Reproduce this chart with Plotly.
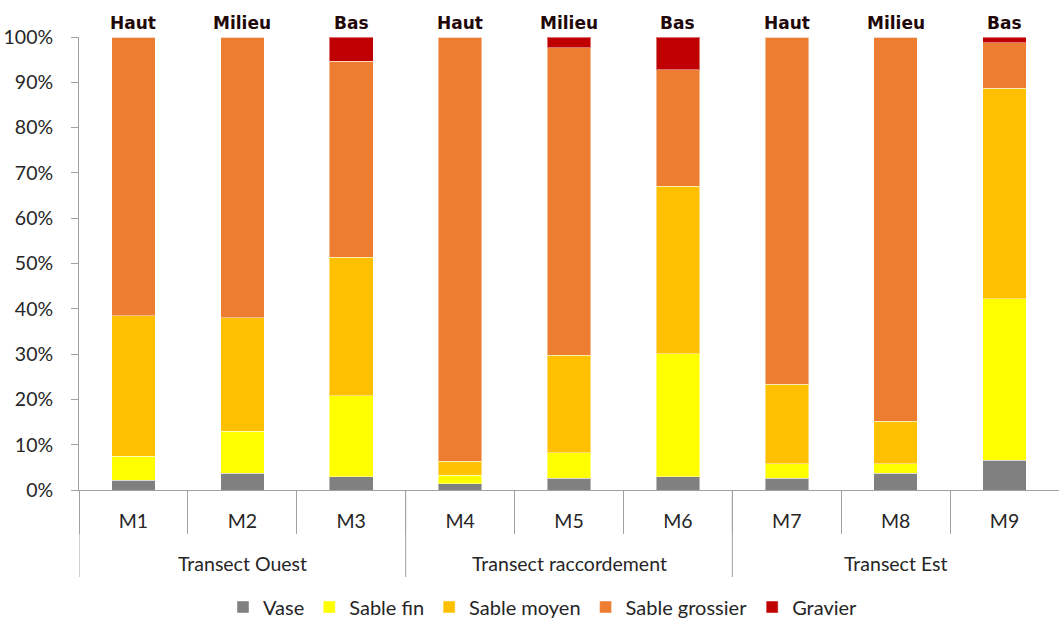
import plotly.graph_objects as go

samples = ["M1", "M2", "M3", "M4", "M5", "M6", "M7", "M8", "M9"]
positions = ["Haut", "Milieu", "Bas", "Haut", "Milieu", "Bas", "Haut", "Milieu", "Bas"]
transects = ["Transect Ouest", "Transect raccordement", "Transect Est"]
transect_centers = ["M2", "M5", "M8"]

vase = [2.2, 3.7, 2.9, 1.4, 2.6, 2.9, 2.6, 3.7, 6.6]
sable_fin = [5.2, 9.3, 17.9, 1.9, 5.6, 27.2, 3.2, 2.1, 35.6]
sable_moyen = [31.1, 25.0, 30.6, 3.0, 21.5, 37.0, 17.5, 9.4, 46.5]
sable_grossier = [61.5, 62.0, 43.3, 93.7, 67.9, 25.7, 76.7, 84.8, 10.0]
gravier = [0, 0, 5.3, 0, 2.4, 7.2, 0, 0, 1.3]

series = [
    ("Vase", vase, "#808080"),
    ("Sable fin", sable_fin, "#FFFF00"),
    ("Sable moyen", sable_moyen, "#FFC000"),
    ("Sable grossier", sable_grossier, "#ED7D31"),
    ("Gravier", gravier, "#C00000"),
]

FONT = "Lato"
FS = 19.5
TXT = "#262626"
AX = "#A0A0A0"

fig = go.Figure()
for name, vals, col in series:
    fig.add_trace(go.Bar(
        x=samples, y=vals, name=name, width=0.4,
        marker=dict(color=col, line=dict(color="rgba(255,255,255,0.45)", width=1)),
    ))

# Top position labels
for s, p in zip(samples, positions):
    fig.add_annotation(x=s, y=100, xref="x", yref="y", text=p, showarrow=False,
                       yanchor="bottom", yshift=2,
                       font=dict(family="DejaVu Sans", size=17, color="#220808", weight="bold"))

# Transect group labels
for t, c in zip(transects, transect_centers):
    fig.add_annotation(x=c, y=-73 / 453, xref="x", yref="paper", text=t, showarrow=False,
                       yanchor="middle", font=dict(family=FONT, size=FS, color=TXT))

# Group dividers
for b in [-0.5, 2.5, 5.5]:
    fig.add_shape(type="line", xref="x", yref="paper", x0=b, x1=b, y0=0, y1=-87 / 453,
                  line=dict(color=AX, width=1))

fig.update_layout(
    width=1059, height=619,
    margin=dict(l=79, r=0, t=37, b=129, autoexpand=False),
    barmode="stack",
    plot_bgcolor="white", paper_bgcolor="white",
    font=dict(family=FONT, size=FS, color=TXT),
    showlegend=True,
    legend=dict(orientation="h", x=(543 - 79) / 980, xanchor="center",
                y=-117 / 453, yanchor="middle", traceorder="normal",
                font=dict(family=FONT, size=20, color=TXT)),
)
fig.update_xaxes(
    range=[-0.5, 8.5], showline=True, linecolor=AX, linewidth=1, automargin=False,
    ticks="outside", tickson="boundaries", ticklen=43, tickcolor=AX,
    ticklabelstandoff=14, showgrid=False,
    tickfont=dict(family=FONT, size=FS, color=TXT),
)
fig.update_yaxes(
    range=[0, 100], dtick=10, ticksuffix="%", showline=True, linecolor=AX, linewidth=1,
    automargin=False,
    ticks="outside", ticklen=7, tickcolor=AX, showgrid=False, zeroline=False,
    ticklabelstandoff=14,
    tickfont=dict(family=FONT, size=FS, color=TXT),
)

fig.write_html("out.html", config={"displayModeBar": False},
               post_script="document.body.style.margin='0';document.body.style.padding='0';")
